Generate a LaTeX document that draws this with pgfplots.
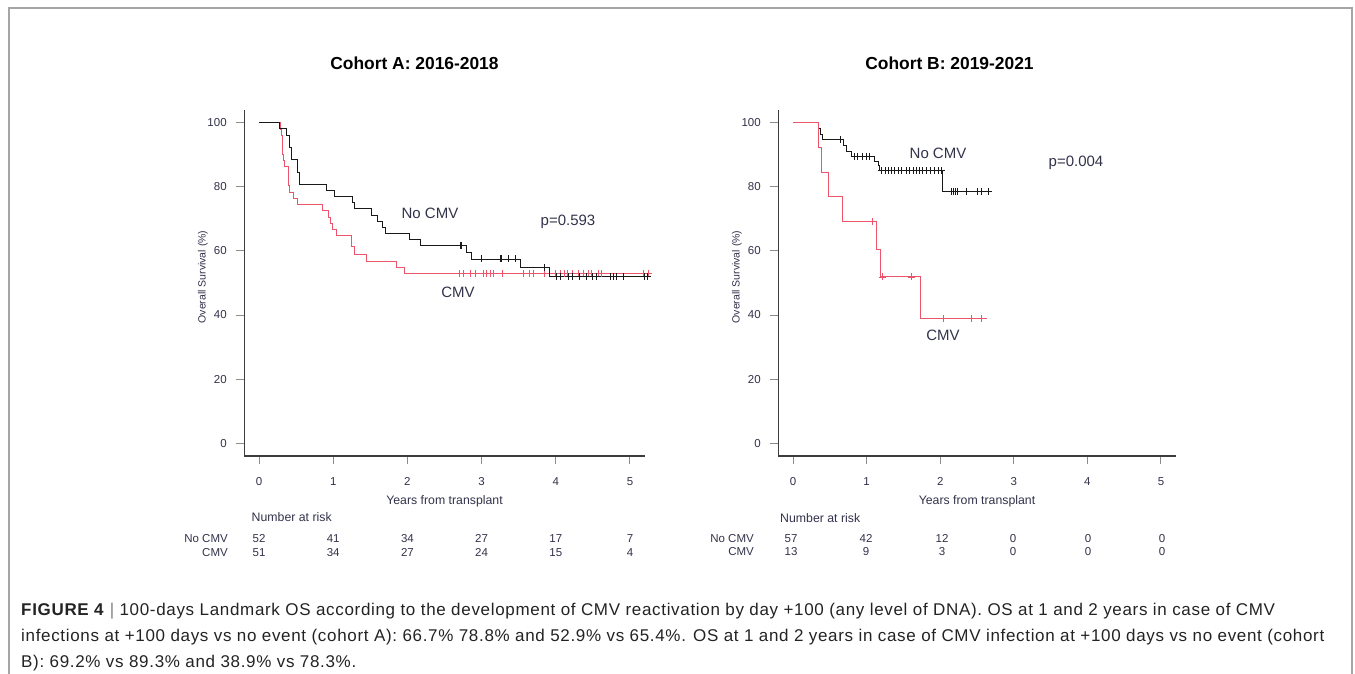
\documentclass[border=0pt]{standalone}
\usepackage{pgfplots}
\pgfplotsset{compat=1.18}
\usepackage{fontspec}
\setmainfont{Liberation Sans}
\newfontfamily\capfont{Liberation Sans}[LetterSpace=4]
\definecolor{txt}{RGB}{50,50,75}
\definecolor{axgray}{RGB}{60,60,60}
\definecolor{tickgray}{RGB}{140,140,140}
\definecolor{kmblack}{RGB}{25,25,25}
\definecolor{kmred}{RGB}{236,85,105}
\definecolor{framegray}{RGB}{165,165,165}
\definecolor{captxt}{RGB}{35,35,35}
\newcommand{\fs}[1]{\fontsize{#1}{#1}\selectfont}
\pgfplotsset{
  kmaxis/.style={
    scale only axis, height=346pt,
    xmin=-0.2, xmax=5.2, ymin=-4, ymax=104,
    axis x line*=bottom, axis y line*=left,
    axis line style={axgray, line width=1.3pt},
    xtick={0,...,5}, ytick={0,20,...,100},
    tick align=outside, major tick length=8pt,
    tick style={tickgray, line width=1pt},
    /pgf/number format/assume math mode=true,
    ticklabel style={font=\fs{11.5}, text=txt},
    xticklabel style={yshift=-10pt},
    yticklabel style={xshift=-6pt},
    clip=false, anchor=south west,
  },
  kmline/.style={#1, line width=0.9pt, const plot, mark=none},
  kmcens/.style={#1, only marks, mark=+, mark size=3.5pt, mark options={line width=0.8pt}},
}
\begin{document}
\begin{tikzpicture}[x=1pt,y=1pt]
\useasboundingbox (0,0) rectangle (1355,-674);
\draw[framegray, line width=1.2pt] (9,-690) -- (9,-8) -- (1352,-8) -- (1352,-690);

% ---------------- Cohort A ----------------
\begin{axis}[kmaxis, width=400.6pt, at={(244.2pt,-456pt)}]
\addplot[kmline=kmred] coordinates {
(0,100) (0.29,98.0) (0.30,96.1) (0.31,94.1) (0.315,92.2) (0.32,90.2) (0.33,88.2) (0.34,86.3)
(0.39,82.4) (0.40,80.4) (0.41,78.4) (0.47,76.5) (0.52,74.5) (0.85,72.5) (0.93,70.6) (0.96,68.6)
(0.99,66.7) (1.05,64.7) (1.24,61.4) (1.29,58.9) (1.45,56.8) (1.85,54.9) (1.96,53.0) (5.25,53.0)};
\addplot[kmcens=kmred] coordinates {
(2.70,53) (2.76,53) (2.85,53) (2.91,53) (3.03,53) (3.07,53) (3.12,53) (3.16,53) (3.28,53)
(3.56,53) (3.65,53) (3.70,53) (3.85,53) (3.99,53) (4.06,53) (4.12,53) (4.15,53) (4.23,53)
(4.30,53) (4.37,53) (4.44,53) (4.48,53) (4.57,53) (4.62,53) (5.18,53) (5.25,53)};
\addplot[kmline=kmblack] coordinates {
(0,100) (0.28,98.1) (0.37,96.2) (0.41,92.3) (0.44,88.5) (0.515,84.6) (0.547,80.8) (0.915,78.8)
(1.02,77.0) (1.26,75.1) (1.29,73.2) (1.51,71.2) (1.59,69.3) (1.66,67.4) (1.70,65.4) (2.03,63.5)
(2.17,61.7) (2.80,59.6) (2.86,57.5) (3.52,54.9) (3.92,52.0) (5.28,52.0)};
\addplot[kmcens=kmblack] coordinates {
(2.71,61.7) (2.73,61.7) (3.00,57.5) (3.25,57.5) (3.27,57.5) (3.36,57.5) (3.45,57.5) (3.85,54.9)
(4.01,52) (4.06,52) (4.17,52) (4.23,52) (4.32,52) (4.41,52) (4.50,52) (4.55,52) (4.73,52)
(4.77,52) (4.82,52) (4.91,52) (5.20,52) (5.24,52)};
\end{axis}

% ---------------- Cohort B ----------------
\begin{axis}[kmaxis, width=397.4pt, at={(778.3pt,-456pt)}]
\addplot[kmline=kmblack] coordinates {
(0,100) (0.34,98.2) (0.37,96.5) (0.40,94.7) (0.68,93.0) (0.72,91.2) (0.79,89.4) (1.10,87.8)
(1.16,86.6) (1.18,85.0) (2.03,78.5) (2.68,78.5)};
\addplot[kmcens=kmblack] coordinates {
(0.65,94.7) (0.83,89.4) (0.88,89.4) (0.94,89.4) (1.00,89.4) (1.04,89.4)
(1.20,85) (1.25,85) (1.29,85) (1.34,85) (1.38,85) (1.43,85) (1.47,85) (1.54,85) (1.58,85)
(1.63,85) (1.67,85) (1.72,85) (1.76,85) (1.81,85) (1.86,85) (1.92,85) (1.97,85) (2.02,85)
(2.15,78.5) (2.18,78.5) (2.21,78.5) (2.24,78.5) (2.35,78.5) (2.51,78.5) (2.56,78.5) (2.65,78.5)};
\addplot[kmline=kmred] coordinates {
(0,100) (0.34,92.3) (0.39,84.6) (0.48,76.9) (0.67,69.2) (1.13,60.6) (1.19,51.9) (1.73,38.9) (2.63,38.9)};
\addplot[kmcens=kmred] coordinates {
(1.08,69.2) (1.21,51.9) (1.61,51.9) (2.05,38.9) (2.43,38.9) (2.56,38.9)};
\end{axis}

% ---------------- texts ----------------
\begin{scope}[every node/.style={inner sep=0pt, text=txt}]
\node[font=\bfseries\fs{17.4}, text=black] at (414.5,-63) {Cohort A: 2016-2018};
\node[font=\bfseries\fs{17.4}, text=black] at (949.5,-63) {Cohort B: 2019-2021};
\node[font=\fs{10.5}, rotate=90] at (203,-277) {Overall Survival (\%)};
\node[font=\fs{10.5}, rotate=90] at (737,-277) {Overall Survival (\%)};
\node[font=\fs{15}] at (430,-213) {No CMV};
\node[font=\fs{15}] at (568,-222) {p=0.593};
\node[font=\fs{15}] at (458,-292) {CMV};
\node[font=\fs{15}] at (938,-153) {No CMV};
\node[font=\fs{15}] at (1076,-163) {p=0.004};
\node[font=\fs{15}] at (943,-335) {CMV};
\node[font=\fs{12.3}] at (444.5,-501) {Years from transplant};
\node[font=\fs{12.3}] at (977,-501) {Years from transplant};
\node[font=\fs{12.3}, anchor=west] at (251.5,-517) {Number at risk};
\node[font=\fs{12.3}, anchor=west] at (780,-518) {Number at risk};
\node[font=\fs{11.5}, anchor=base east] at (228,-542.2) {No CMV};
\node[font=\fs{11.5}, anchor=base east] at (228,-556.6) {CMV};
\node[font=\fs{11.5}, anchor=base east] at (754,-542.2) {No CMV};
\node[font=\fs{11.5}, anchor=base east] at (754,-555.6) {CMV};
\foreach \x/\a/\b in {259/52/51, 333.2/41/34, 407.4/34/27, 481.6/27/24, 555.8/17/15, 630/7/4}{
  \node[font=\fs{11.5}, anchor=base] at (\x,-542.2) {\a};
  \node[font=\fs{11.5}, anchor=base] at (\x,-556.6) {\b};
}
\foreach \x/\a/\b in {791/57/13, 866/42/9, 942/12/3, 1013/0/0, 1088/0/0, 1162/0/0}{
  \node[font=\fs{11.5}, anchor=base] at (\x,-542.2) {\a};
  \node[font=\fs{11.5}, anchor=base] at (\x,-555.6) {\b};
}
\end{scope}
\begin{scope}[every node/.style={inner sep=0pt, anchor=base west, text=captxt, font=\capfont\fs{17}}]
\node at (21,-615) {\textbf{FIGURE 4} {\color{gray}|} 100-days Landmark OS according to the development of CMV reactivation by day +100 (any level of DNA). OS at 1 and 2 years in case of CMV};
\node at (21,-641) {infections at +100 days vs no event (cohort A): 66.7\% 78.8\% and 52.9\% vs 65.4\%. OS at 1 and 2 years in case of CMV infection at +100 days vs no event (cohort};
\node at (21,-667) {B): 69.2\% vs 89.3\% and 38.9\% vs 78.3\%.};
\end{scope}
\end{tikzpicture}
\end{document}
